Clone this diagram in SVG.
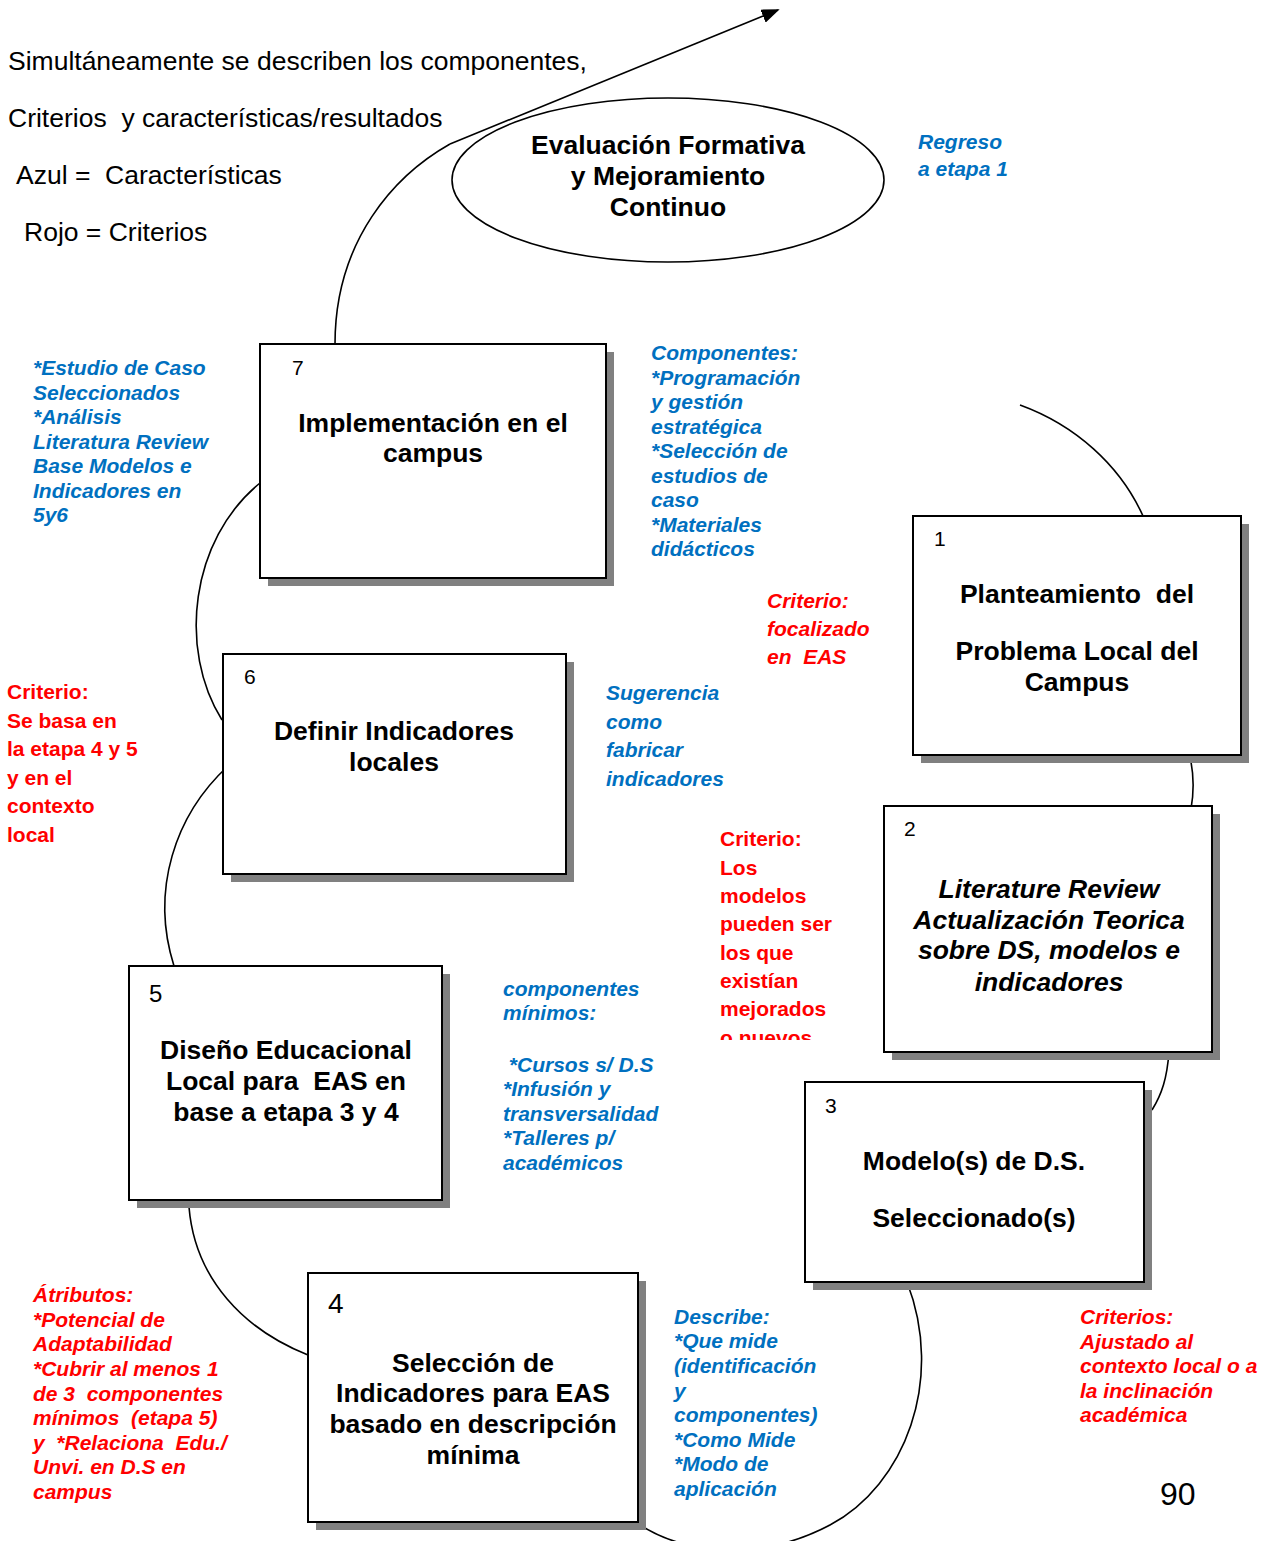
<svg xmlns="http://www.w3.org/2000/svg" width="1278" height="1541" viewBox="0 0 1278 1541">
<style>
.lg{font-family:"Liberation Sans",Arial,sans-serif;font-size:26.5px;fill:#000}
.bx{font-family:"Liberation Sans",Arial,sans-serif;font-size:26.5px;font-weight:bold;fill:#000;text-anchor:middle}
.bxi{font-style:italic}
.num{font-family:"Liberation Sans",Arial,sans-serif;font-size:21px;fill:#000}
.blue{font-family:"Liberation Sans",Arial,sans-serif;font-size:21px;font-weight:bold;font-style:italic;fill:#0070C0}
.red{font-family:"Liberation Sans",Arial,sans-serif;font-size:21px;font-weight:bold;fill:#FF0000}
.redi{font-style:italic}
.box{fill:#fff;stroke:#000;stroke-width:2}
.shadow{fill:#808080}
.conn{fill:none;stroke:#000;stroke-width:1.6}
</style>
<defs>
<marker id="arrow" viewBox="0 0 10 10" refX="9" refY="5" markerWidth="18" markerHeight="14" markerUnits="userSpaceOnUse" orient="auto" preserveAspectRatio="none">
<path d="M0,0 L10,5 L0,10 z" fill="#000"/>
</marker>
<clipPath id="clipLos"><rect x="700" y="820" width="180" height="220"/></clipPath>
</defs>
<rect width="1278" height="1541" fill="#fff"/>

<g id="connectors">
<path class="conn" d="M 335 344 C 335 240, 395 175, 450 144"/>
<line class="conn" x1="450" y1="144" x2="778" y2="10" marker-end="url(#arrow)"/>
<path class="conn" d="M 260 483 C 190 540, 178 650, 222 720"/>
<path class="conn" d="M 228 766 C 175 815, 150 890, 174 966"/>
<path class="conn" d="M 189 1207 C 195 1280, 245 1330, 308 1355"/>
<path class="conn" d="M 630 1518 C 680 1556, 760 1562, 830 1525 C 905 1485, 945 1380, 907 1282"/>
<path class="conn" d="M 1169 1052 C 1167 1078, 1162 1094, 1152 1110"/>
<path class="conn" d="M 1189 753 C 1194 772, 1194 792, 1191 809"/>
<path class="conn" d="M 1020 405 C 1075 425, 1120 465, 1143 516"/>
</g>

<g id="legend">
<text class="lg" x="8" y="70">Simultáneamente se describen los componentes,</text>
<text class="lg" x="8" y="127" xml:space="preserve">Criterios  y características/resultados</text>
<text class="lg" x="16" y="184" xml:space="preserve">Azul =  Características</text>
<text class="lg" x="24" y="241">Rojo = Criterios</text>
</g>

<g id="node-evaluacion">
<ellipse cx="668" cy="180" rx="216" ry="82" fill="#fff" stroke="#000" stroke-width="1.6"/>
<text class="bx" x="668" y="154">Evaluación Formativa</text>
<text class="bx" x="668" y="185">y Mejoramiento</text>
<text class="bx" x="668" y="216">Continuo</text>
</g>

<g id="note-regreso">
<text class="blue" x="918" y="149">Regreso</text>
<text class="blue" x="918" y="176">a etapa 1</text>
</g>

<g id="node-7">
<rect class="shadow" x="268" y="352" width="346" height="234"/>
<rect class="box" x="260" y="344" width="346" height="234"/>
<text class="num" x="292" y="375">7</text>
<text class="bx" x="433" y="432">Implementación en el</text>
<text class="bx" x="433" y="462">campus</text>
</g>

<g id="note-estudio">
<text class="blue" x="33" y="375">*Estudio de Caso</text>
<text class="blue" x="33" y="399.5">Seleccionados</text>
<text class="blue" x="33" y="424">*Análisis</text>
<text class="blue" x="33" y="448.5">Literatura Review</text>
<text class="blue" x="33" y="473">Base Modelos e</text>
<text class="blue" x="33" y="497.5">Indicadores en</text>
<text class="blue" x="33" y="522">5y6</text>
</g>

<g id="note-componentes">
<text class="blue" x="651" y="360">Componentes:</text>
<text class="blue" x="651" y="384.5">*Programación</text>
<text class="blue" x="651" y="409">y gestión</text>
<text class="blue" x="651" y="433.5">estratégica</text>
<text class="blue" x="651" y="458">*Selección de</text>
<text class="blue" x="651" y="482.5">estudios de</text>
<text class="blue" x="651" y="507">caso</text>
<text class="blue" x="651" y="531.5">*Materiales</text>
<text class="blue" x="651" y="556">didácticos</text>
</g>

<g id="note-focalizado">
<text class="red redi" x="767" y="608">Criterio:</text>
<text class="red redi" x="767" y="636">focalizado</text>
<text class="red redi" x="767" y="664" xml:space="preserve">en  EAS</text>
</g>

<g id="node-1">
<rect class="shadow" x="921" y="524" width="328" height="239"/>
<rect class="box" x="913" y="516" width="328" height="239"/>
<text class="num" x="934" y="546">1</text>
<text class="bx" x="1077" y="603" xml:space="preserve">Planteamiento  del</text>
<text class="bx" x="1077" y="660">Problema Local del</text>
<text class="bx" x="1077" y="691">Campus</text>
</g>

<g id="node-6">
<rect class="shadow" x="231" y="662" width="343" height="220"/>
<rect class="box" x="223" y="654" width="343" height="220"/>
<text class="num" x="244" y="684">6</text>
<text class="bx" x="394" y="740">Definir Indicadores</text>
<text class="bx" x="394" y="771">locales</text>
</g>

<g id="note-sebasa">
<text class="red" x="7" y="699">Criterio:</text>
<text class="red" x="7" y="727.5">Se basa en</text>
<text class="red" x="7" y="756">la etapa 4 y 5</text>
<text class="red" x="7" y="784.5">y en el</text>
<text class="red" x="7" y="813">contexto</text>
<text class="red" x="7" y="841.5">local</text>
</g>

<g id="note-sugerencia">
<text class="blue" x="606" y="700">Sugerencia</text>
<text class="blue" x="606" y="728.5">como</text>
<text class="blue" x="606" y="757">fabricar</text>
<text class="blue" x="606" y="785.5">indicadores</text>
</g>

<g id="note-modelos" clip-path="url(#clipLos)">
<text class="red" x="720" y="846">Criterio:</text>
<text class="red" x="720" y="874.5">Los</text>
<text class="red" x="720" y="903">modelos</text>
<text class="red" x="720" y="931">pueden ser</text>
<text class="red" x="720" y="959.5">los que</text>
<text class="red" x="720" y="987.5">existían</text>
<text class="red" x="720" y="1016">mejorados</text>
<text class="red" x="720" y="1044.5">o nuevos</text>
</g>

<g id="node-2">
<rect class="shadow" x="892" y="814" width="328" height="246"/>
<rect class="box" x="884" y="806" width="328" height="246"/>
<text class="num" x="904" y="836">2</text>
<text class="bx bxi" x="1049" y="898">Literature Review</text>
<text class="bx bxi" x="1049" y="929">Actualización Teorica</text>
<text class="bx bxi" x="1049" y="959">sobre DS, modelos e</text>
<text class="bx bxi" x="1049" y="991">indicadores</text>
</g>

<g id="node-5">
<rect class="shadow" x="137" y="974" width="313" height="234"/>
<rect class="box" x="129" y="966" width="313" height="234"/>
<text class="num" x="149" y="1002" style="font-size:24px">5</text>
<text class="bx" x="286" y="1059">Diseño Educacional</text>
<text class="bx" x="286" y="1090" xml:space="preserve">Local para  EAS en</text>
<text class="bx" x="286" y="1121">base a etapa 3 y 4</text>
</g>

<g id="note-minimos">
<text class="blue" x="503" y="996">componentes</text>
<text class="blue" x="503" y="1020">mínimos:</text>
<text class="blue" x="503" y="1072" xml:space="preserve"> *Cursos s/ D.S</text>
<text class="blue" x="503" y="1096">*Infusión y</text>
<text class="blue" x="503" y="1121">transversalidad</text>
<text class="blue" x="503" y="1145">*Talleres p/</text>
<text class="blue" x="503" y="1170">académicos</text>
</g>

<g id="node-3">
<rect class="shadow" x="813" y="1090" width="339" height="200"/>
<rect class="box" x="805" y="1082" width="339" height="200"/>
<text class="num" x="825" y="1113">3</text>
<text class="bx" x="974" y="1170">Modelo(s) de D.S.</text>
<text class="bx" x="974" y="1227">Seleccionado(s)</text>
</g>

<g id="node-4">
<rect class="shadow" x="316" y="1281" width="330" height="249"/>
<rect class="box" x="308" y="1273" width="330" height="249"/>
<text class="num" x="328" y="1313" style="font-size:28px">4</text>
<text class="bx" x="473" y="1372">Selección de</text>
<text class="bx" x="473" y="1402">Indicadores para EAS</text>
<text class="bx" x="473" y="1433">basado en descripción</text>
<text class="bx" x="473" y="1464">mínima</text>
</g>

<g id="note-atributos">
<text class="red redi" x="33" y="1302">Átributos:</text>
<text class="red redi" x="33" y="1327">*Potencial de</text>
<text class="red redi" x="33" y="1351">Adaptabilidad</text>
<text class="red redi" x="33" y="1376">*Cubrir al menos 1</text>
<text class="red redi" x="33" y="1401" xml:space="preserve">de 3  componentes</text>
<text class="red redi" x="33" y="1425" xml:space="preserve">mínimos  (etapa 5)</text>
<text class="red redi" x="33" y="1450" xml:space="preserve">y  *Relaciona  Edu./</text>
<text class="red redi" x="33" y="1474">Unvi. en D.S en</text>
<text class="red redi" x="33" y="1499">campus</text>
</g>

<g id="note-describe">
<text class="blue" x="674" y="1324">Describe:</text>
<text class="blue" x="674" y="1348">*Que mide</text>
<text class="blue" x="674" y="1373">(identificación</text>
<text class="blue" x="674" y="1398">y</text>
<text class="blue" x="674" y="1422">componentes)</text>
<text class="blue" x="674" y="1447">*Como Mide</text>
<text class="blue" x="674" y="1471">*Modo de</text>
<text class="blue" x="674" y="1496">aplicación</text>
</g>

<g id="note-criterios">
<text class="red redi" x="1080" y="1324">Criterios:</text>
<text class="red redi" x="1080" y="1349">Ajustado al</text>
<text class="red redi" x="1080" y="1373">contexto local o a</text>
<text class="red redi" x="1080" y="1398">la inclinación</text>
<text class="red redi" x="1080" y="1422">académica</text>
</g>

<g id="page-number">
<text class="lg" x="1160" y="1505" style="font-size:32px">90</text>
</g>
</svg>
